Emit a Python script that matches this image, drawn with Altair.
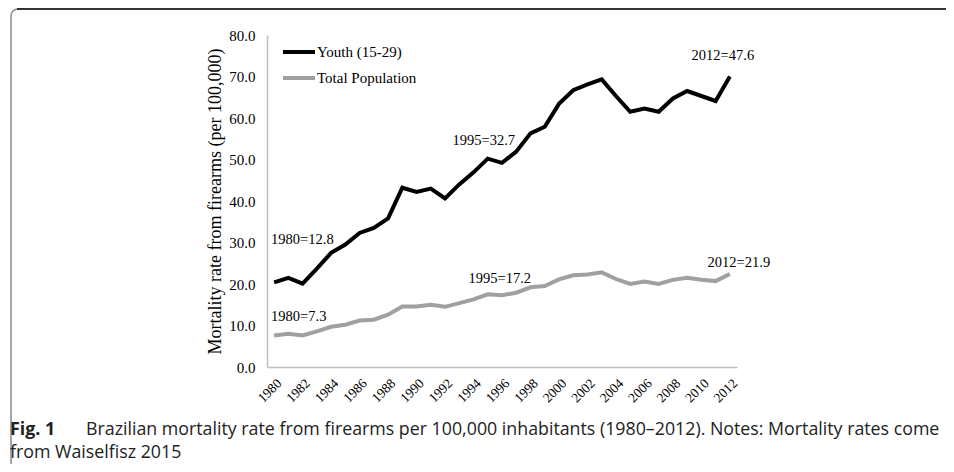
import altair as alt
import pandas as pd

years = list(range(1980, 2013))
youth = [20.4, 21.5, 20.1, 23.7, 27.5, 29.5, 32.3, 33.5, 35.8, 43.2,
         42.2, 43.0, 40.6, 44.0, 46.9, 50.2, 49.2, 51.9, 56.3, 57.9,
         63.4, 66.7, 68.1, 69.3, 65.3, 61.5, 62.3, 61.5, 64.7, 66.5,
         65.3, 64.1, 70.0]
total = [7.6, 8.0, 7.6, 8.6, 9.7, 10.2, 11.2, 11.4, 12.6, 14.6,
         14.6, 15.0, 14.5, 15.4, 16.3, 17.5, 17.3, 17.9, 19.2, 19.5,
         21.1, 22.1, 22.3, 22.8, 21.2, 20.0, 20.6, 20.0, 21.0, 21.5,
         21.0, 20.7, 22.4]
series_names = ["Youth (15-29)", "Total Population"]
series_colors = ["#000000", "#a0a0a0"]
tick_years = list(range(1980, 2013, 2))
y_ticks = [0, 10, 20, 30, 40, 50, 60, 70, 80]
y_title = "Mortality rate from firearms (per 100,000)"

ann_labels = ["1980=12.8", "1980=7.3", "1995=32.7", "1995=17.2", "2012=47.6", "2012=21.9"]
ann_years = [1980, 1980, 1995, 1995, 2012, 2012]
ann_values = [30.6, 12.0, 54.5, 21.2, 74.9, 25.1]
ann_align = ["left", "left", "center", "center", "center", "center"]
ann_dx = [-3, -3, -4, 12, -7, 9]

caption_bold = "Fig. 1"
caption_line1 = "Brazilian mortality rate from firearms per 100,000 inhabitants (1980\u20132012). Notes: Mortality rates come"
caption_line2 = "from Waiselfisz 2015"

SERIF = "Liberation Serif"
SANS = "Open Sans"

rows = []
for name, vals in zip(series_names, [youth, total]):
    for yr, v in zip(years, vals):
        rows.append({"year": yr, "value": v, "series": name})
df = pd.DataFrame(rows)

dummy = pd.DataFrame({"a": [0]})

frame = alt.Chart(dummy).mark_rect(
    fillOpacity=0, stroke="#8a8a8a", strokeWidth=1.5, cornerRadius=7
).encode(x=alt.value(-256), x2=alt.value(1400), y=alt.value(-26), y2=alt.value(1400))
frame_top = alt.Chart(dummy).mark_rule(color="#333333", strokeWidth=2).encode(
    x=alt.value(-250), x2=alt.value(1400), y=alt.value(-26))

lines = alt.Chart(df).mark_line(strokeWidth=4).encode(
    x=alt.X("year:O", title=None,
            scale=alt.Scale(type="point", padding=0.5),
            axis=alt.Axis(values=tick_years, labelAngle=-45, labelFont=SERIF,
                          labelFontSize=13.5, labelColor="#000000", ticks=False,
                          tickSize=0, labelPadding=9, domainColor="#c0c0c0",
                          domainWidth=1.5)),
    y=alt.Y("value:Q", title=y_title,
            scale=alt.Scale(domain=[0, 80], nice=False),
            axis=alt.Axis(values=y_ticks, format=".1f", grid=False, ticks=False,
                          tickSize=0, labelPadding=12, labelFont=SERIF,
                          labelFontSize=15, labelColor="#000000",
                          titleFont=SERIF, titleFontSize=18, titleFontWeight="normal",
                          titleColor="#000000", titlePadding=4,
                          domainColor="#c0c0c0", domainWidth=1.5)),
    color=alt.Color("series:N",
                    scale=alt.Scale(domain=series_names, range=series_colors),
                    legend=alt.Legend(orient="none", legendX=14, legendY=-1, title=None,
                                      symbolType="stroke", symbolStrokeWidth=4,
                                      symbolSize=1024, labelFont=SERIF, labelFontSize=15,
                                      labelColor="#000000", rowPadding=-14, padding=0,
                                      labelOffset=0)),
)

layers = [frame, frame_top, lines]
for lab, yr, v, al, dx in zip(ann_labels, ann_years, ann_values, ann_align, ann_dx):
    d = pd.DataFrame({"year": [yr], "value": [v], "label": [lab]})
    layers.append(
        alt.Chart(d).mark_text(align=al, baseline="middle", dx=dx, font=SERIF,
                               fontSize=14.5, color="#000000").encode(
            x="year:O", y="value:Q", text="label:N")
    )

CAP_SIZE = 17.8
cap1 = alt.Chart(dummy).mark_text(text=caption_bold, font=SANS, fontSize=CAP_SIZE,
                                  fontWeight="bold", align="left", baseline="alphabetic",
                                  color="#222222").encode(x=alt.value(-257), y=alt.value(400))
cap2 = alt.Chart(dummy).mark_text(text=caption_line1, font=SANS, fontSize=CAP_SIZE,
                                  align="left", baseline="alphabetic",
                                  color="#222222").encode(x=alt.value(-181), y=alt.value(400))
cap3 = alt.Chart(dummy).mark_text(text=caption_line2, font=SANS, fontSize=CAP_SIZE,
                                  align="left", baseline="alphabetic",
                                  color="#222222").encode(x=alt.value(-257), y=alt.value(423))
layers += [cap1, cap2, cap3]

chart = alt.layer(*layers).properties(
    width=470, height=332,
    padding={"left": 259, "top": 27, "right": 209, "bottom": 97},
    autosize=alt.AutoSizeParams(type="none"),
).configure_view(stroke=None).resolve_scale(x="shared", y="shared")

chart.save("out.html", embed_options={"renderer": "svg", "actions": False})
